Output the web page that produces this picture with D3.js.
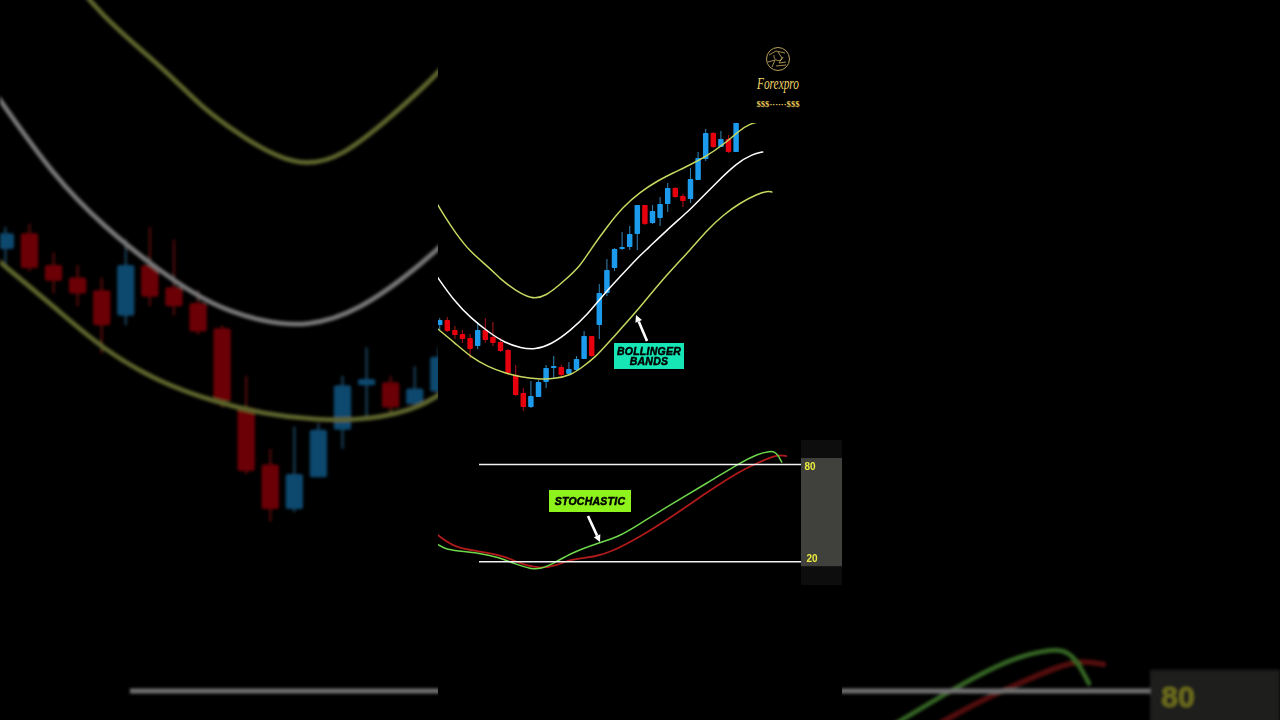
<!DOCTYPE html>
<html><head><meta charset="utf-8">
<script src="https://cdn.jsdelivr.net/npm/d3@7"></script>
<style>html,body{margin:0;background:#000;overflow:hidden}svg{display:block}text{font-family:"Liberation Sans",Arial,sans-serif}</style>
</head><body><svg id="c" width="1280" height="720"></svg>
<script>
// Candles, one entry per bar (chart points)
const opens  = [395,400,390,386,382,374,390,383,378,370,345,327,313,323,338,352,353,346,350,361,384,395,427,452,471,473,486,515,497,502,516,532,524,521,540,561,587,573,581,568];
const closes = [400,389,385,381,371,390,380,377,369,347,325,313,324,338,352,354,345,351,361,384,364,427,450,471,473,486,515,496,509,516,532,523,519,541,562,587,573,581,568,600];
const highs  = [402,403,394,390,386,398,402,398,382,371,355,332,339,340,355,364,355,358,364,389,384,436,461,472,488,494,515,515,515,523,537,533,526,552,568,591,588,589,585,604];
const lows   = [390,388,381,377,362,371,377,374,368,345,324,309,312,323,332,342,343,346,349,361,363,381,424,449,470,470,470,495,496,494,508,522,513,517,540,559,572,573,567,568];

// Bollinger bands: bar position and band value
const upperBars = [-0.4,0.7,2,4,6.6,8.1,9.9,12,13.9,16.5,18.5,19.8,22,24.1,26.4,28.6,30.7,32.9,34.9,37.3,39.5,40.8,41.9];
const upperVals = [517,503,488,468,452,440,430,421,423,440,454,470,493,513,528,539,547,555,563,575,590,596,598];
const middleBars = [-0.4,2,4.1,6.4,8.6,10.7,12.5,14.6,17.3,19.5,21.5,23.7,26,27.3,29.9,32.9,33.9,36.5,39.1,41.2,42.5];
const middleVals = [444,418,402,388,377,372,370.5,375,390,406,425,443,462,471,490,510,518,538,557,566,568];
const lowerBars = [-0.4,2,4.1,6.4,8.6,10.7,12.9,15.1,17.3,18.6,20.4,22.5,26.1,29,33.2,35.2,37.3,39.5,41.8,43.1,43.7];
const lowerVals = [392,377,363,353,347,343,341,341,345,352,362,380,410,438,472,490,505,517,526,529,528];

// Stochastic oscillator: bar position and value
const kBars = [-0.4,0.7,2.4,5,7.7,9.9,12,13.3,15.1,17.3,20.8,23.5,26.1,30.7,35.2,39.5,41.8,43.5,44.1,44.5,45];
const kVals = [31,27.8,26.6,25.4,22.9,18.6,15.5,15.5,19.2,25.4,31.5,35.2,42.7,56.2,68.6,80.9,86.5,88.3,87.7,85.9,81.5];
const dBars = [-0.4,2,5,8.6,10.3,13.3,15.6,17.3,20.4,22.5,26.1,30.7,35.2,39.5,41.8,43.9,44.8,45.6];
const dVals = [37,28.5,26.6,23.5,19.2,15.5,18,21.7,22.9,26,34.6,48.2,63,76,80.9,85.2,85.9,85.2];
const stochLevels = [80,20];

const UP="#1e9bec", DOWN="#e6000f", BAND="#c8d75f", MID="#ffffff", KCOL="#6fd64c", DCOL="#b01a1a";
const x = d3.scaleLinear().domain([0,39]).range([439.7,736.1]);
const y = d3.scaleLinear().domain([297,597]).range([423,123]);
const os = d3.scaleLinear().domain([20,80]).range([561.7,464.5]);
const svg = d3.select("#c");
const defs = svg.append("defs");
defs.append("clipPath").attr("id","plot").append("rect").attr("x",438).attr("y",123).attr("width",404).attr("height",597);
const blur=defs.append("filter").attr("id","bgblur").attr("filterUnits","userSpaceOnUse").attr("x",0).attr("y",0).attr("width",1280).attr("height",720);
blur.append("feGaussianBlur").attr("stdDeviation",1.5);
const soft=defs.append("filter").attr("id","soft").attr("filterUnits","userSpaceOnUse").attr("x",0).attr("y",0).attr("width",1280).attr("height",720);
soft.append("feGaussianBlur").attr("stdDeviation",0.35);

function line(xs,ys,sc,g,col,w){
  g.append("path").attr("fill","none").attr("stroke",col).attr("stroke-width",w)
   .attr("stroke-linecap","round").attr("stroke-linejoin","round")
   .attr("d",d3.line().curve(d3.curveBasis).x(i=>x(xs[i])).y(i=>sc(ys[i]))(d3.range(xs.length)));
}
function drawChart(root,isBg){
  root.append("rect").attr("x",801).attr("y",440).attr("width",41).attr("height",145).attr("fill",isBg?"#050505":"#0a0a0a");
  root.append("rect").attr("x",801).attr("y",os(80)-6.5).attr("width",41).attr("height",os(20)-os(80)+11).attr("fill","#3f403e");
  const g=root.append("g").attr("clip-path","url(#plot)");
  const bars=g.selectAll("g.bar").data(opens.map((o,i)=>i)).join("g").attr("class","bar");
  const bw=(x(1)-x(0))*0.72;
  bars.append("line").attr("x1",i=>x(i)).attr("x2",i=>x(i)).attr("y1",i=>y(highs[i])).attr("y2",i=>y(lows[i]))
    .attr("stroke",i=>closes[i]>=opens[i]?"#2f7aa8":"#a01218").attr("stroke-width",isBg?0.8:1.1);
  bars.append("rect").attr("x",i=>x(i)-bw/2).attr("width",bw).attr("rx",0.8)
    .attr("y",i=>y(Math.max(opens[i],closes[i]))).attr("height",i=>Math.abs(y(opens[i])-y(closes[i])))
    .attr("fill",i=>closes[i]>=opens[i]?UP:DOWN);
  line(lowerBars,lowerVals,y,g,BAND,1.5);
  line(middleBars,middleVals,y,g,MID,1.5);
  line(upperBars,upperVals,y,g,BAND,1.5);
  root.selectAll("line.lvl").data(stochLevels).join("line").attr("class","lvl")
    .attr("x1",479).attr("x2",801).attr("y1",d=>os(d)).attr("y2",d=>os(d)).attr("stroke","#f2f2f2").attr("stroke-width",1.6);
  line(dBars,dVals,os,g,DCOL,1.8);
  line(kBars,kVals,os,g,KCOL,1.5);
  root.selectAll("text.lvlt").data(isBg?stochLevels.slice(0,1):stochLevels).join("text").attr("class","lvlt")
    .attr("x",d=>d===80?804.5:806.5).attr("y",d=>d===80?os(d)+5:os(d)+0.5).attr("fill","#ecec3c")
    .attr("font-size",isBg?9.5:10).attr("font-weight",700).text(d=>d);
}
// blurred, enlarged, dimmed backdrop
const k=1280/404;
const bg=svg.append("g").attr("filter","url(#bgblur)").attr("opacity",0.47);
const bgIn=bg.append("g").attr("transform",`translate(640,360) scale(${k}) translate(-640,-360)`);
drawChart(bgIn,true);
// foreground column
svg.append("rect").attr("x",438).attr("y",0).attr("width",404).attr("height",720).attr("fill","#000");
const fg=svg.append("g").attr("filter","url(#soft)");
drawChart(fg,false);

function arrow(x1,y1,x2,y2){
  const a=Math.atan2(y2-y1,x2-x1), h=7, s=3.6;
  const bx=x2-h*Math.cos(a), by=y2-h*Math.sin(a);
  fg.append("line").attr("x1",x1).attr("y1",y1).attr("x2",bx).attr("y2",by).attr("stroke","#fff").attr("stroke-width",2.6);
  fg.append("path").attr("fill","#fff").attr("d",`M${x2},${y2}L${bx-s*Math.sin(a)},${by+s*Math.cos(a)}L${bx+s*Math.sin(a)},${by-s*Math.cos(a)}Z`);
}
function tag(x0,y0,w,h,col,lines){
  fg.append("rect").attr("x",x0).attr("y",y0).attr("width",w).attr("height",h).attr("fill",col);
  lines.forEach((t,i)=>fg.append("text").attr("x",x0+w/2).attr("y",y0+(h-lines.length*10)/2+9+i*10)
    .attr("text-anchor","middle").attr("font-size",10.5).attr("font-weight",700).attr("font-style","italic")
    .attr("letter-spacing",0.25).attr("stroke","#000").attr("stroke-width",0.5).attr("fill","#000").text(t));
}
tag(614,343,70,26,"#17e6b6",["BOLLINGER","BANDS"]);
arrow(647,341,636,315);
tag(549,490,82,22,"#8ef31c",["STOCHASTIC"]);
arrow(588,516,600,542);

// brand mark
const logo=svg.append("g");
logo.append("circle").attr("cx",778).attr("cy",59).attr("r",11.5).attr("fill","none").attr("stroke","#b9a05a").attr("stroke-width",1);
logo.append("path").attr("fill","none").attr("stroke","#c8ad62").attr("stroke-width",0.8)
 .attr("d","M769,55L776,51L785,53M768,62L775,60L772,67M778,52L782,58L779,63L786,62M774,55A4,4 0 1 0 783,57M776,66L786,65");
logo.append("text").attr("x",778).attr("y",89).attr("text-anchor","middle").attr("font-size",17).attr("font-style","italic")
 .attr("textLength",42).attr("lengthAdjust","spacingAndGlyphs").style("font-family","Liberation Serif").attr("fill","#f1d56a").text("Forexpro");
logo.append("text").attr("x",778).attr("y",107).attr("text-anchor","middle").attr("font-size",8.5).attr("font-weight",700)
 .attr("textLength",43).attr("lengthAdjust","spacingAndGlyphs").style("font-family","Liberation Serif").attr("fill","#eccb5c").text("$$$······$$$");
</script></body></html>
